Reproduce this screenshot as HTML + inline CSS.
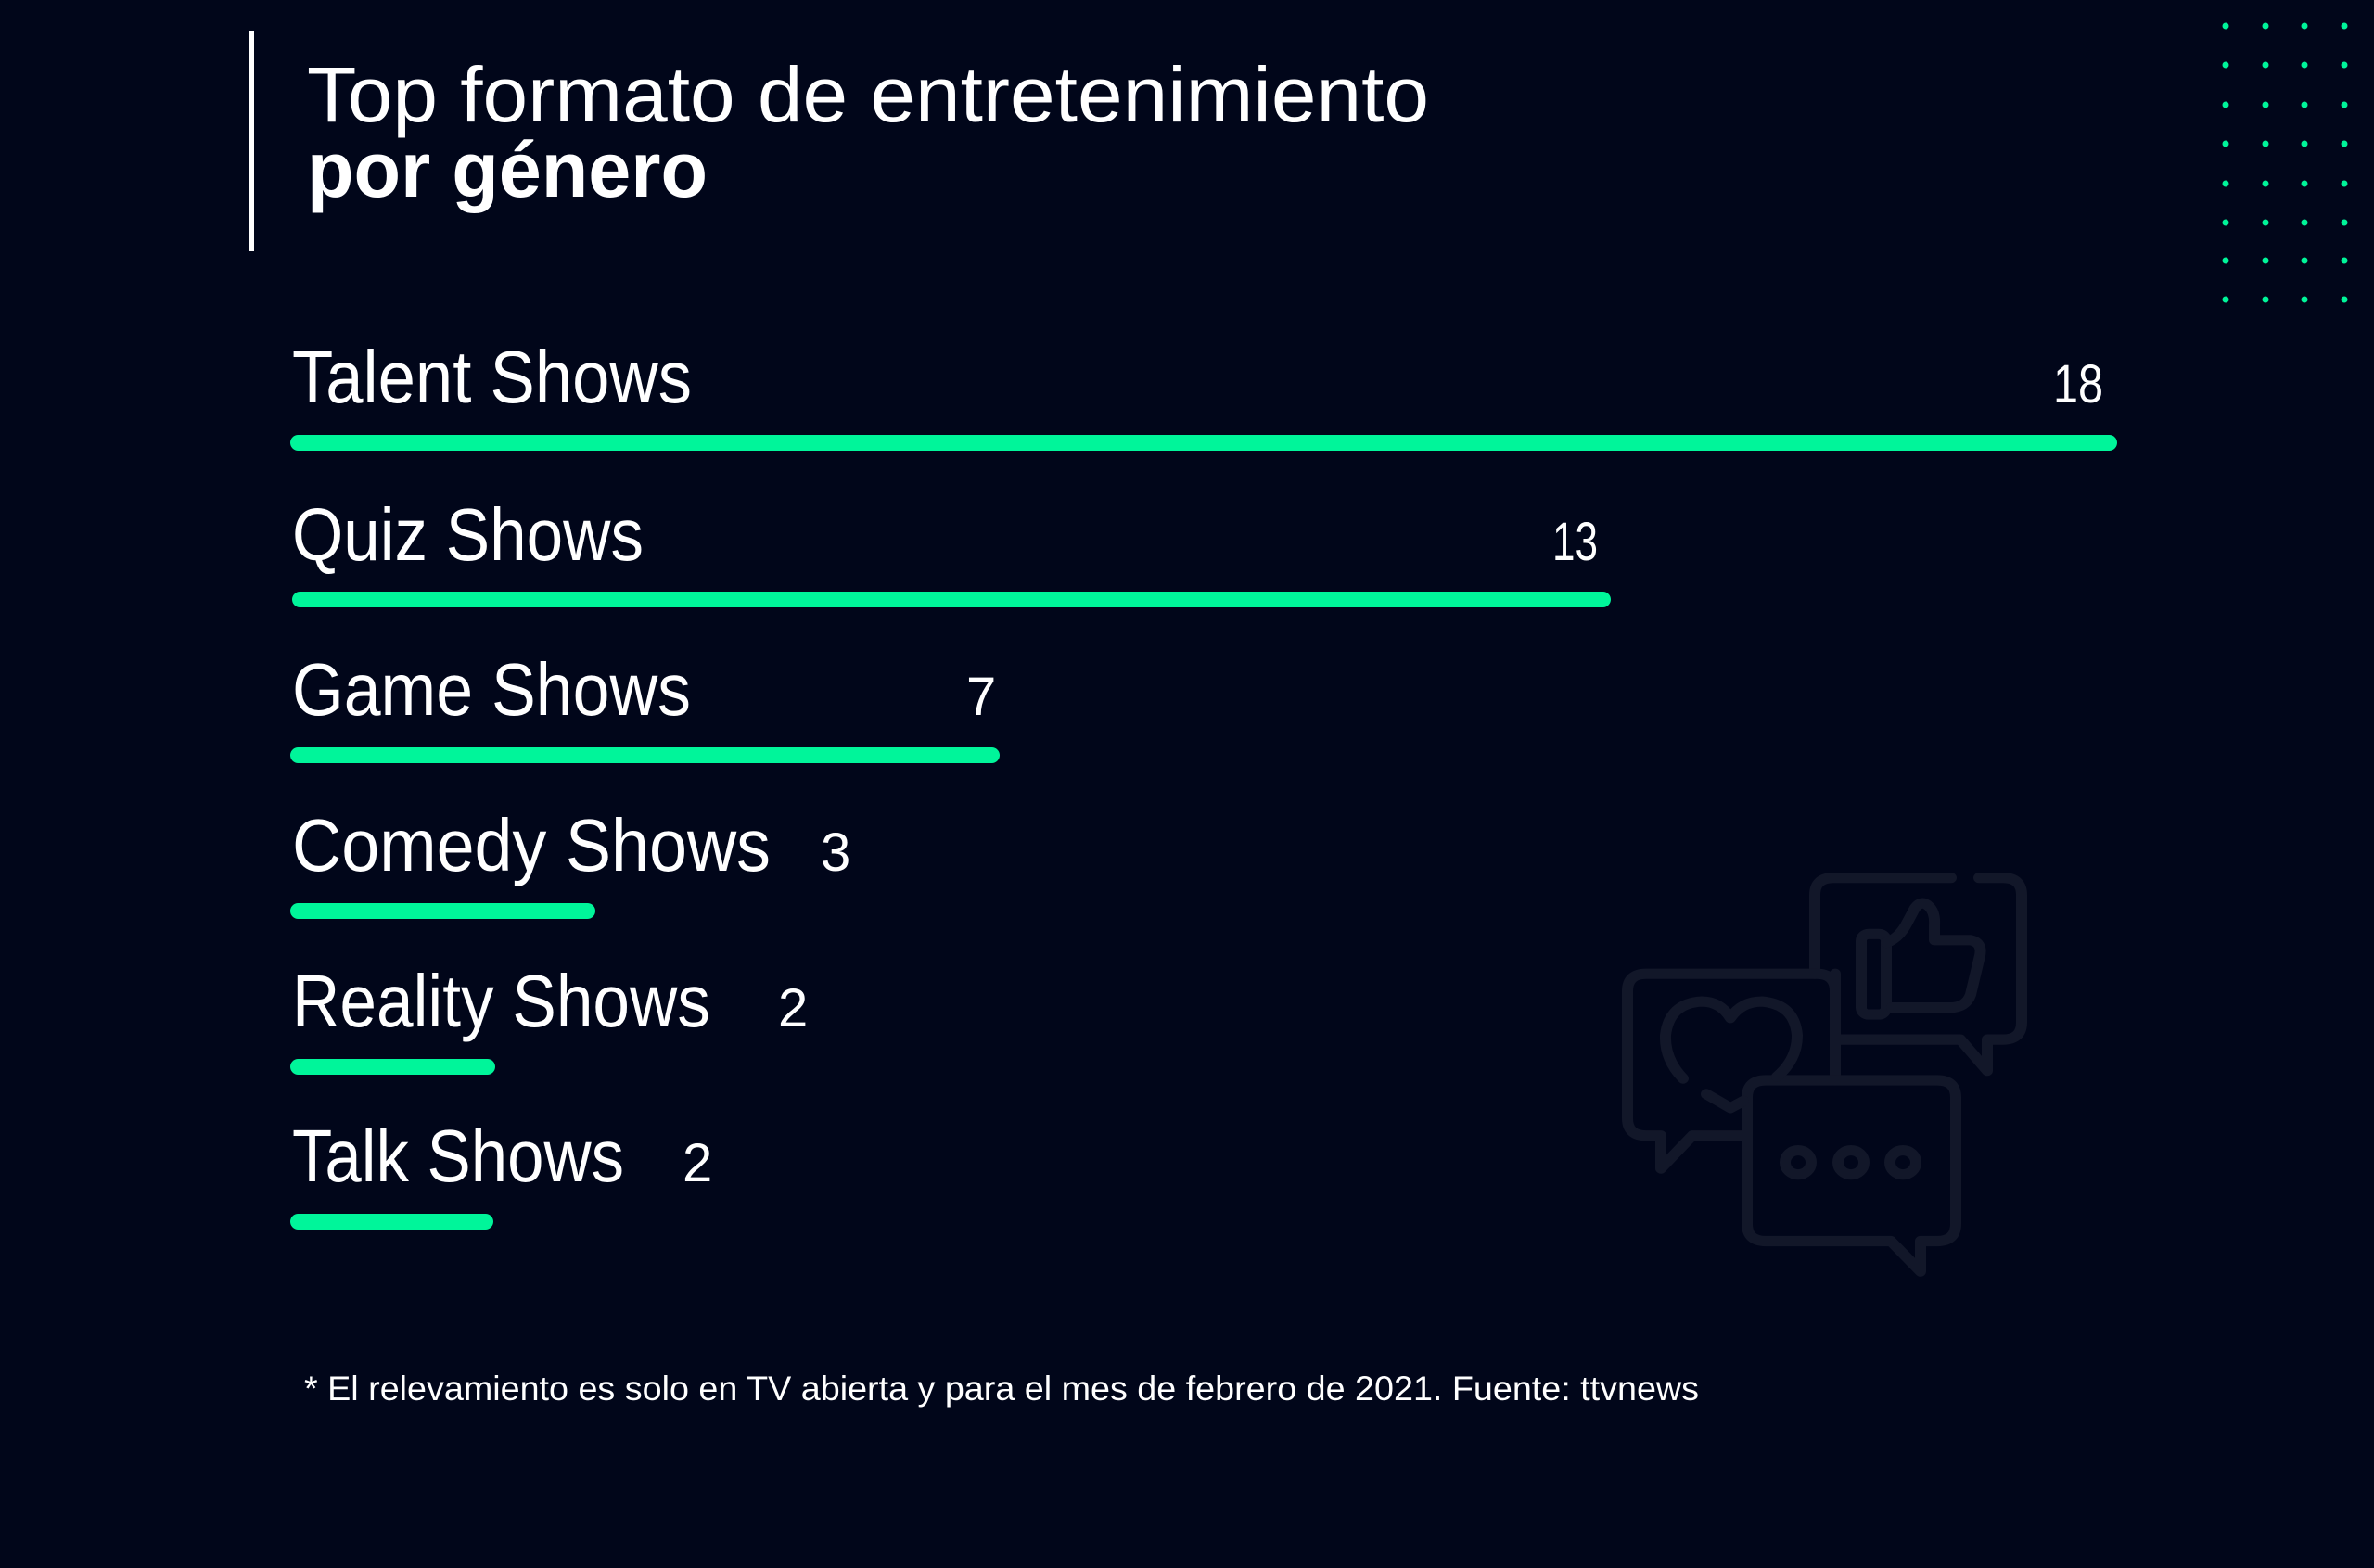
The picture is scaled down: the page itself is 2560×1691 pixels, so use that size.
<!DOCTYPE html>
<html><head><meta charset="utf-8"><style>
html,body{margin:0;padding:0;background:#01061a;}
svg{display:block}
text{font-family:"Liberation Sans",sans-serif;fill:#fff}
</style></head><body>
<svg width="2560" height="1691" viewBox="0 0 2560 1691" xmlns="http://www.w3.org/2000/svg">
<rect width="2560" height="1691" fill="#01061a"/>
<rect x="269" y="33" width="5" height="238" fill="#fff"/>
<text x="331" y="131" font-size="84" font-weight="300" textLength="1210" lengthAdjust="spacingAndGlyphs">Top formato de entretenimiento</text>
<text x="331" y="212" font-size="84" font-weight="bold" textLength="432" lengthAdjust="spacingAndGlyphs">por género</text>
<g fill="#00f59a">
<g id="r">
<circle cx="2400" cy="28" r="3.5"/><circle cx="2443" cy="28" r="3.5"/><circle cx="2485" cy="28" r="3.5"/><circle cx="2528" cy="28" r="3.5"/>
</g>
<use href="#r" y="42"/><use href="#r" y="85"/><use href="#r" y="127"/><use href="#r" y="170"/><use href="#r" y="212"/><use href="#r" y="253"/><use href="#r" y="295"/>
</g>
<g transform="translate(0,60.3) scale(1,0.933)" stroke="#121729" stroke-width="12" fill="none" stroke-linecap="round" stroke-linejoin="round">
<path d="M2104 950 H1977 Q1957 950 1957 970 V1061"/>
<path d="M2134 950 H2160 Q2180 950 2180 970 V1117 Q2180 1137 2160 1137 H2143 V1173 L2114 1137 H1979"/>
<path d="M1979 1061 V1184 M1884 1248 H1825 L1791 1286 V1248 H1775 Q1755 1248 1755 1228 V1081 Q1755 1061 1775 1061 H1959 Q1979 1061 1979 1081"/>
<path d="M1904 1184 H2089 Q2109 1184 2109 1204 V1350 Q2109 1370 2089 1370 H2071 V1405 L2039 1370 H1904 Q1884 1370 1884 1350 V1204 Q1884 1184 1904 1184 Z"/>
<circle cx="1939" cy="1279" r="14"/><circle cx="1996" cy="1279" r="14"/><circle cx="2052" cy="1279" r="14"/>
<path d="M1815 1182 Q1795 1160 1796 1132 Q1800 1095 1835 1093 Q1855 1093 1866 1112 Q1878 1093 1900 1093 Q1935 1096 1938 1132 Q1938 1160 1916 1180"/>
<path d="M1840 1200 L1866 1216 L1880 1208"/>
<rect x="2007" y="1015" width="27" height="93" rx="8"/>
<path d="M2034 1025 Q2047 1020 2055 1005 L2065 985 Q2072 975 2080 983 Q2087 990 2086 1005 V1022 H2125 Q2138 1025 2135 1040 L2125 1085 Q2120 1100 2103 1100 H2040"/>
</g>
<g fill="#00f59a">
<rect x="313" y="469" width="1970" height="17" rx="8.5"/>
<rect x="315" y="638" width="1422" height="17" rx="8.5"/>
<rect x="313" y="806" width="765" height="17" rx="8.5"/>
<rect x="313" y="974" width="329" height="17" rx="8.5"/>
<rect x="313" y="1142" width="221" height="17" rx="8.5"/>
<rect x="313" y="1309" width="219" height="17" rx="8.5"/>
</g>
<g font-size="80" font-weight="300">
<text x="315" y="434" textLength="431" lengthAdjust="spacingAndGlyphs">Talent Shows</text>
<text x="315" y="604" textLength="379" lengthAdjust="spacingAndGlyphs">Quiz Shows</text>
<text x="315" y="771" textLength="430" lengthAdjust="spacingAndGlyphs">Game Shows</text>
<text x="315" y="939" textLength="516" lengthAdjust="spacingAndGlyphs">Comedy Shows</text>
<text x="315" y="1107" textLength="451" lengthAdjust="spacingAndGlyphs">Reality Shows</text>
<text x="315" y="1274" textLength="358" lengthAdjust="spacingAndGlyphs">Talk Shows</text>
</g>
<g font-size="58" font-weight="300">
<text x="2214" y="434" textLength="54" lengthAdjust="spacingAndGlyphs">18</text>
<text x="1674" y="604" textLength="49" lengthAdjust="spacingAndGlyphs">13</text>
<text x="1042" y="771">7</text>
<text x="885" y="939">3</text>
<text x="839" y="1107">2</text>
<text x="736" y="1274">2</text>
</g>
<text x="328" y="1510" font-size="37" textLength="1504" lengthAdjust="spacingAndGlyphs">* El relevamiento es solo en TV abierta y para el mes de febrero de 2021. Fuente: ttvnews</text>
</svg>
</body></html>
